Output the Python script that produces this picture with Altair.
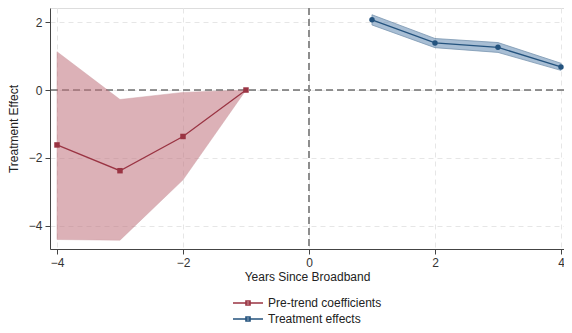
import altair as alt
import pandas as pd

# ---- data ----
pre_x = [-4, -3, -2, -1]
pre_coef = [-1.62, -2.38, -1.37, 0.0]
pre_hi = [1.13, -0.28, -0.07, 0.0]
pre_lo = [-4.41, -4.43, -2.65, 0.0]

post_x = [1, 2, 3, 4]
post_coef = [2.07, 1.39, 1.26, 0.68]
post_hi = [2.22, 1.52, 1.40, 0.79]
post_lo = [1.92, 1.25, 1.11, 0.58]

series_names = ["Pre-trend coefficients", "Treatment effects"]
tick_vals = [-4, -2, 0, 2, 4]

RED = "#9a3443"
RED_BAND = "#c0737d"
BLUE = "#24537e"
BLUE_BAND = "#6f93b8"
FONT = "Liberation Sans"

pre = pd.DataFrame({"x": pre_x, "y": pre_coef, "lo": pre_lo, "hi": pre_hi,
                    "series": series_names[0]})
post = pd.DataFrame({"x": post_x, "y": post_coef, "lo": post_lo, "hi": post_hi,
                     "series": series_names[1]})
both = pd.concat([pre, post], ignore_index=True)

xscale = alt.Scale(domain=[-4.111, 4.048], nice=False, zero=False)
yscale = alt.Scale(domain=[-4.69, 2.42], nice=False, zero=False)

xaxis = alt.Axis(values=tick_vals, title="Years Since Broadband", format="d",
                 grid=True, gridDash=[5, 4], gridColor="#e6e6e6", gridWidth=1,
                 domainColor="#444", tickColor="#444", tickSize=5,
                 labelFontSize=12, labelColor="#333", labelPadding=3,
                 titleFontSize=12, titleFontWeight="normal", titleColor="#222",
                 titlePadding=3, labelFont=FONT, titleFont=FONT)
yaxis = alt.Axis(values=tick_vals, title="Treatment Effect", format="d",
                 grid=True, gridDash=[5, 4], gridColor="#e6e6e6", gridWidth=1,
                 domainColor="#444", tickColor="#444", tickSize=5,
                 labelFontSize=12, labelColor="#333", labelPadding=3,
                 titleFontSize=12, titleFontWeight="normal", titleColor="#222",
                 titlePadding=8, labelFont=FONT, titleFont=FONT)

base = alt.Chart(both)

pre_band = alt.Chart(pre).mark_area(color=RED_BAND, opacity=0.55, stroke="#a9525e",
                                    strokeWidth=0.8, strokeOpacity=0.6).encode(
    x=alt.X("x:Q", scale=xscale, axis=xaxis),
    y=alt.Y("lo:Q", scale=yscale, axis=yaxis),
    y2="hi:Q")
post_band = alt.Chart(post).mark_area(color=BLUE_BAND, opacity=0.6, stroke=BLUE,
                                      strokeWidth=1.0, strokeOpacity=0.8).encode(
    x=alt.X("x:Q", scale=xscale), y=alt.Y("lo:Q", scale=yscale), y2="hi:Q")

hrule = alt.Chart(pre).mark_rule(color="#8c8c8c", strokeDash=[7, 4], strokeWidth=1.3).encode(
    y=alt.datum(0, scale=yscale))
vrule = alt.Chart(pre).mark_rule(color="#8c8c8c", strokeDash=[7, 4], strokeWidth=1.3).encode(
    x=alt.datum(0, scale=xscale))

sym = "M-3,0 L3,0 M-0.4,-0.4 L0.4,-0.4 L0.4,0.4 L-0.4,0.4 Z"

color_scale = alt.Scale(domain=series_names, range=[RED, BLUE])

lines = base.mark_line(strokeWidth=1.3).encode(
    x=alt.X("x:Q", scale=xscale),
    y=alt.Y("y:Q", scale=yscale),
    color=alt.Color("series:N", scale=color_scale, legend=alt.Legend(
        title=None, orient="none", legendX=192, legendY=289, direction="vertical",
        labelFontSize=12, labelFont=FONT, labelColor="#222", labelOffset=14,
        symbolType=sym, symbolSize=100, symbolStrokeWidth=1.6, rowPadding=4)))

pts_pre = alt.Chart(pre).mark_point(shape="square", filled=True, size=30, opacity=1,
                                    color=RED).encode(
    x=alt.X("x:Q", scale=xscale), y=alt.Y("y:Q", scale=yscale))
pts_post = alt.Chart(post).mark_point(shape="circle", filled=True, size=30, opacity=1,
                                      color=BLUE).encode(
    x=alt.X("x:Q", scale=xscale), y=alt.Y("y:Q", scale=yscale))

chart = alt.layer(hrule, vrule, pre_band, post_band, lines, pts_pre, pts_post).properties(
    width=514, height=241,
    autosize=alt.AutoSizeParams(type="none"),
    padding={"left": 42, "top": 0, "right": 0, "bottom": 76},
).configure_view(stroke=None).configure(background="white")

chart.save("out.html", embed_options={"renderer": "svg", "actions": False})
